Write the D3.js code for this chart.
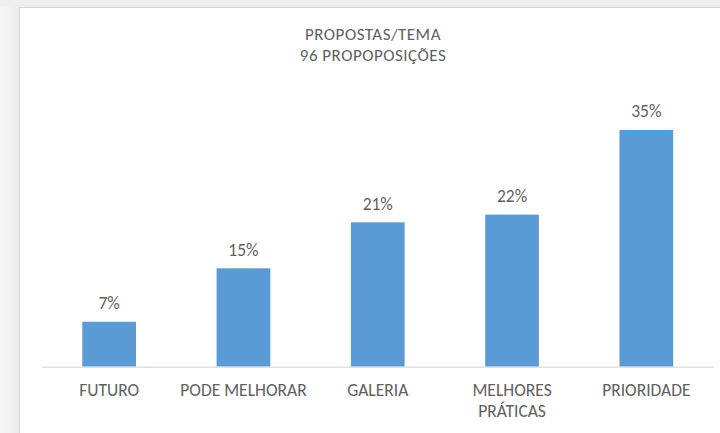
<!DOCTYPE html>
<html lang="pt">
<head>
  <meta charset="UTF-8">
  <title>Propostas/Tema</title>
  <script src="https://d3js.org/d3.v7.min.js"></script>
  <style>
    html, body {
      margin: 0;
      padding: 0;
      background: #f2f2f2;
    }
    svg {
      display: block;
      font-family: Carlito, Calibri, Lato, sans-serif;
    }
    .bar {
      fill: #5b9bd5;
    }
    .lbl {
      fill: #5f5f5f;
    }
  </style>
</head>
<body>
  <script>
    // dados
    const categories = ["FUTURO", "PODE MELHORAR", "GALERIA", "MELHORES PRÁTICAS", "PRIORIDADE"];
    const values = [0.0665, 0.1455, 0.2135, 0.2249, 0.35];
    const titleLines = ["PROPOSTAS/TEMA", "96 PROPOPOSIÇÕES"];

    const width = 720;
    const height = 433;
    const plot = { left: 42, right: 713.5, bottom: 366.7 };

    const svg = d3.select("body")
                  .append("svg")
                  .attr("width", width)
                  .attr("height", height);

    // sombra / moldura do gráfico
    const shade = svg.append("defs").append("linearGradient")
      .attr("id", "shadeL").attr("x1", 0).attr("x2", 1);
    shade.append("stop").attr("offset", 0).attr("stop-color", "#f7f7f7");
    shade.append("stop").attr("offset", 1).attr("stop-color", "#ebebeb");
    svg.append("rect").attr("x", 0).attr("y", 0).attr("width", 19).attr("height", height)
       .attr("fill", "url(#shadeL)");
    svg.append("rect").attr("x", 0).attr("y", 0).attr("width", width).attr("height", 7)
       .attr("fill", "#efefef");
    svg.append("rect")
       .attr("x", 19.5).attr("y", 7.5)
       .attr("width", width + 20).attr("height", height + 20)
       .attr("fill", "#fff")
       .attr("stroke", "#d6d6d6");

    // escalas
    const x = d3.scaleBand()
                .domain(categories)
                .range([plot.left, plot.right])
                .paddingInner(0.6)
                .paddingOuter(0.3);

    const y = d3.scaleLinear()
                .domain([0, 0.40])
                .range([plot.bottom, plot.bottom - 0.40 * 676.3]);

    // barras
    svg.selectAll(".bar")
       .data(values)
       .enter()
       .append("rect")
       .attr("class", "bar")
       .attr("x", (d, i) => x(categories[i]))
       .attr("y", d => y(d))
       .attr("width", x.bandwidth())
       .attr("height", d => y(0) - y(d));

    // rótulos de dados
    const pct = d3.format(".0%");
    svg.selectAll(".val")
       .data(values)
       .enter()
       .append("text")
       .attr("class", "lbl")
       .attr("x", (d, i) => x(categories[i]) + x.bandwidth() / 2)
       .attr("y", d => y(d) - 12.5)
       .attr("text-anchor", "middle")
       .style("font-size", "17.5px")
       .text(d => pct(d));

    // eixo x
    const xAxis = d3.axisBottom(x).tickSize(0).tickPadding(0).tickFormat("");
    const gx = svg.append("g")
                  .attr("transform", `translate(0, ${plot.bottom})`)
                  .call(xAxis);
    gx.select(".domain").attr("stroke", "#d9d9d9").attr("stroke-width", 1.3);

    // rótulos das categorias, quebrando linha se não couber
    const step = x.step();
    categories.forEach(c => {
      const t = svg.append("text")
                   .attr("class", "lbl")
                   .attr("text-anchor", "middle")
                   .style("font-size", "17.5px")
                   .attr("x", x(c) + x.bandwidth() / 2)
                   .attr("y", 396);
      const words = c.split(" ");
      let line = [];
      let tspan = t.append("tspan").attr("x", x(c) + x.bandwidth() / 2);
      words.forEach(w => {
        line.push(w);
        tspan.text(line.join(" "));
        if (tspan.node().getComputedTextLength() > step && line.length > 1) {
          line.pop();
          tspan.text(line.join(" "));
          line = [w];
          tspan = t.append("tspan")
                   .attr("x", x(c) + x.bandwidth() / 2)
                   .attr("dy", 21)
                   .text(w);
        }
      });
    });

    // título (duas linhas)
    svg.selectAll(".title")
       .data(titleLines)
       .enter()
       .append("text")
       .attr("class", "lbl title")
       .attr("text-anchor", "middle")
       .style("font-size", "17px")
       .style("letter-spacing", "0.5px")
       .attr("x", 373)
       .attr("y", (d, i) => 40 + i * 20.5)
       .text(d => d);
  </script>
</body>
</html>
